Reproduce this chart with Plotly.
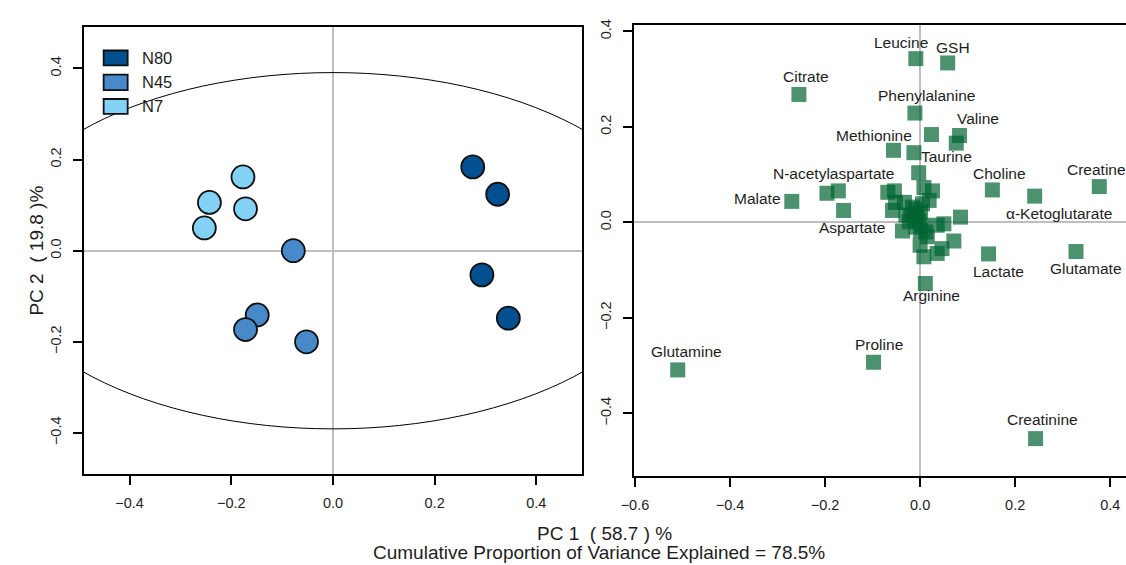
import plotly.graph_objects as go

W, H = 1126, 565
FONT = "Liberation Sans, Arial, Helvetica, sans-serif"
TXT = "#1e1e1e"

# ---------------- left panel: sample scores ----------------
groups = ["N80", "N45", "N7"]
group_colors = ["#02508F", "#4889CA", "#83D2F5"]
n80_x = [0.275, 0.324, 0.293, 0.345]
n80_y = [0.184, 0.124, -0.053, -0.148]
n45_x = [-0.078, -0.149, -0.172, -0.052]
n45_y = [0.000, -0.141, -0.173, -0.200]
n7_x = [-0.177, -0.243, -0.172, -0.253]
n7_y = [0.162, 0.106, 0.092, 0.050]
ellipse_ax = 0.67   # semi-axis along PC1
ellipse_ay = 0.391  # semi-axis along PC2

# ---------------- right panel: loadings ----------------
load_x = [-0.009, 0.058, -0.255, -0.011, 0.024, 0.083, 0.076, -0.056, -0.013, -0.003,
          0.152, 0.241, 0.377, -0.196, -0.172, -0.270, -0.161, 0.144, 0.328, 0.011,
          -0.510, -0.098, 0.243,
          -0.068, -0.054, -0.052, -0.058, -0.033, 0.008, 0.026, 0.019, 0.005, -0.010,
          -0.020, -0.006, -0.012, -0.002, 0.005, 0.012, 0.001, -0.023, -0.030, 0.001,
          0.085, 0.050, 0.036, -0.037, 0.071, 0.046, 0.036, 0.000, 0.008, -0.016,
          0.015, -0.009]
load_y = [0.343, 0.334, 0.268, 0.229, 0.184, 0.182, 0.166, 0.151, 0.146, 0.104,
          0.068, 0.055, 0.075, 0.061, 0.066, 0.044, 0.025, -0.066, -0.061, -0.128,
          -0.309, -0.293, -0.453,
          0.063, 0.066, 0.042, 0.025, 0.042, 0.073, 0.066, 0.046, 0.039, 0.028,
          0.015, 0.018, 0.004, 0.004, -0.006, -0.020, -0.017, 0.001, 0.015, 0.022,
          0.011, -0.003, -0.006, -0.018, -0.039, -0.055, -0.065, -0.048, -0.072, 0.032,
          -0.030, -0.010]

label_text = ["Leucine", "GSH", "Citrate", "Phenylalanine", "Valine", "Methionine",
              "Taurine", "N-acetylaspartate", "Choline", "Creatine", "Malate",
              "α-Ketoglutarate", "Aspartate", "Lactate", "Glutamate", "Arginine",
              "Proline", "Glutamine", "Creatinine"]
label_x = [-0.040, 0.069, -0.241, 0.014, 0.122, -0.096, 0.056, -0.182, 0.167, 0.371,
           -0.343, 0.292, -0.143, 0.164, 0.349, 0.024, -0.087, -0.492, 0.257]
label_y = [0.377, 0.367, 0.305, 0.265, 0.217, 0.182, 0.137, 0.103, 0.103, 0.111,
           0.051, 0.018, -0.011, -0.103, -0.096, -0.154, -0.256, -0.271, -0.412]

x_ticks_left = [-0.4, -0.2, 0.0, 0.2, 0.4]
y_ticks_left = [-0.4, -0.2, 0.0, 0.2, 0.4]
x_ticks_right = [-0.6, -0.4, -0.2, 0.0, 0.2, 0.4]
y_ticks_right = [-0.4, -0.2, 0.0, 0.2, 0.4]

x_title = "PC 1\u00a0\u00a0( 58.7 ) %"
y_title = "PC 2\u00a0\u00a0( 19.8 )%"
sub_title = "Cumulative Proportion of Variance Explained = 78.5%"

fig = go.Figure()

for name, col, xs, ys in zip(groups, group_colors, [n80_x, n45_x, n7_x], [n80_y, n45_y, n7_y]):
    fig.add_trace(go.Scatter(
        x=xs, y=ys, mode="markers", name=name, xaxis="x", yaxis="y",
        marker=dict(symbol="circle", size=23, color=col, line=dict(color="#111111", width=1.8)),
        showlegend=False, hoverinfo="skip"))

fig.add_trace(go.Scatter(
    x=load_x, y=load_y, mode="markers", xaxis="x2", yaxis="y2",
    marker=dict(symbol="square", size=15, color="rgba(0,100,50,0.7)", line=dict(width=0)),
    showlegend=False, hoverinfo="skip"))

shapes = [dict(type="circle", xref="x", yref="y",
               x0=-ellipse_ax, x1=ellipse_ax, y0=-ellipse_ay, y1=ellipse_ay,
               line=dict(color="black", width=1), layer="above")]

annotations = []
for t, lx, ly in zip(label_text, label_x, label_y):
    annotations.append(dict(x=lx, y=ly, xref="x2", yref="y2", text=t, showarrow=False,
                            font=dict(family=FONT, size=15.5, color=TXT),
                            xanchor="center", yanchor="middle"))

# legend (drawn manually, R style)
leg_y = [(45, 60), (69.3, 85), (94, 109)]
for name, col, (t, b) in zip(groups, group_colors, leg_y):
    shapes.append(dict(type="rect", xref="paper", yref="paper",
                       x0=91.7 / W, x1=116 / W, y0=1 - b / H, y1=1 - t / H,
                       fillcolor=col, line=dict(color="#111111", width=1.8), layer="above"))
    annotations.append(dict(x=128.3 / W, y=1 - (t + b) / 2 / H, xref="paper", yref="paper",
                            text=name, showarrow=False, xanchor="left", yanchor="middle",
                            font=dict(family=FONT, size=16.5, color=TXT)))

annotations.append(dict(x=598.8 / W, y=32.3 / H, xref="paper", yref="paper", text=x_title,
                        showarrow=False, xanchor="center", yanchor="middle",
                        font=dict(family=FONT, size=19, color=TXT)))
annotations.append(dict(x=592.5 / W, y=0, xref="paper", yref="paper", text=sub_title,
                        showarrow=False, xanchor="center", yanchor="bottom",
                        font=dict(family=FONT, size=19, color=TXT)))
annotations.append(dict(x=24 / W, y=1 - 247.5 / H, xref="paper", yref="paper", text=y_title,
                        showarrow=False, xanchor="center", yanchor="middle", textangle=-90,
                        font=dict(family=FONT, size=19, color=TXT)))

axis_common = dict(showgrid=False, zeroline=True, zerolinecolor="#BEBEBE", zerolinewidth=2,
                   showline=True, linecolor="black", linewidth=1.5,
                   ticks="outside", ticklen=9, tickwidth=1.5, tickcolor="black",
                   tickformat=".1f", tickfont=dict(family=FONT, size=14.5, color=TXT))

fig.update_layout(
    width=W, height=H, margin=dict(l=0, r=0, t=0, b=0),
    paper_bgcolor="white", plot_bgcolor="white", showlegend=False,
    xaxis=dict(domain=[71.7 / W, 575.7 / W], range=[-0.49, 0.49], tickvals=x_ticks_left,
               mirror=True, anchor="y", ticklabelstandoff=6, **axis_common),
    yaxis=dict(domain=[1 - 473 / H, 1 - 21.7 / H], range=[-0.49, 0.49], tickvals=y_ticks_left,
               mirror=True, anchor="x", tickangle=-90, ticklabelstandoff=6, **axis_common),
    xaxis2=dict(domain=[628.3 / W, 1.0], range=[-0.6019, 0.4332], tickvals=x_ticks_right,
                mirror=True, anchor="y2", ticklabelstandoff=6, **axis_common),
    yaxis2=dict(domain=[1 - 475 / H, 1 - 19.3 / H], range=[-0.5312, 0.4133], tickvals=y_ticks_right,
                mirror=False, anchor="x2", tickangle=-90, ticklabelstandoff=6, **axis_common),
    shapes=shapes, annotations=annotations,
)

fig.write_html("out.html")
